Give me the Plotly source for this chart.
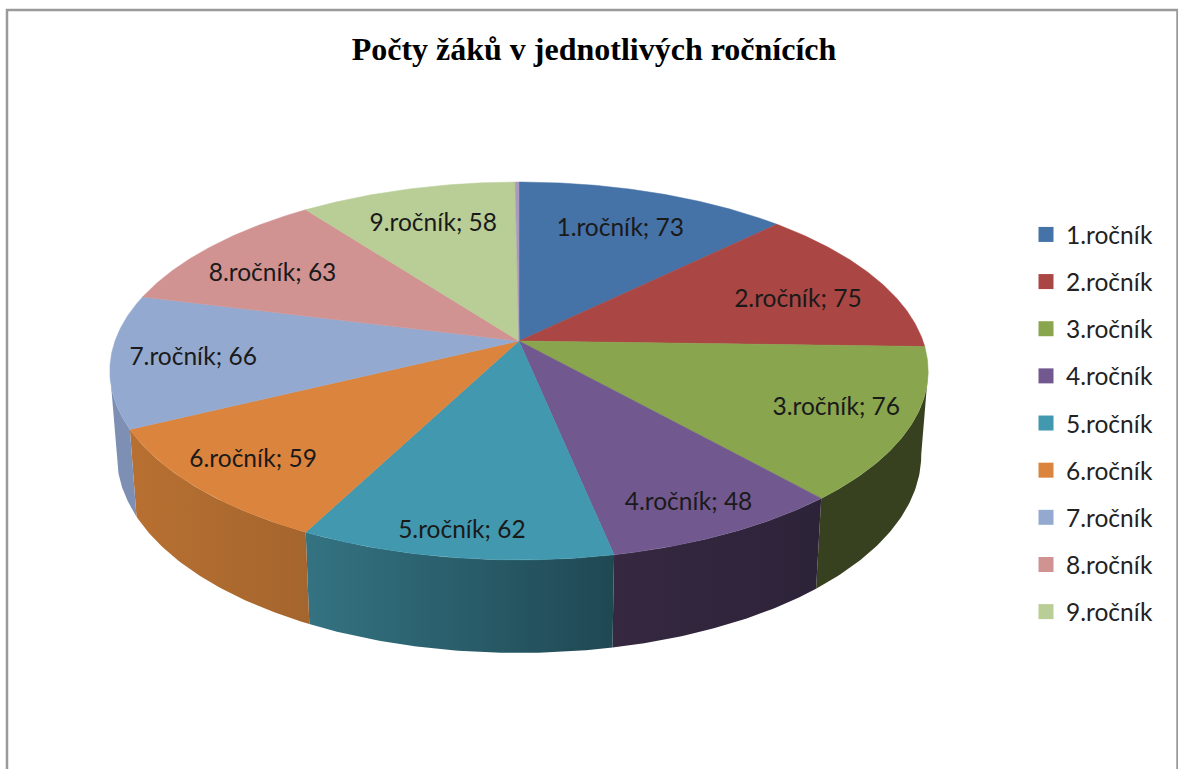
import numpy as np
import plotly.graph_objects as go

categories = ["1.ročník", "2.ročník", "3.ročník", "4.ročník", "5.ročník",
              "6.ročník", "7.ročník", "8.ročník", "9.ročník"]
values = [73, 75, 76, 48, 62, 59, 66, 63, 58]
# unlabelled sliver just before 12 o'clock in the original
sliver_value = 1

top_colors = ["#4572A7", "#AA4643", "#89A54E", "#71588F", "#4198AF",
              "#DB843D", "#93A9CF", "#D19392", "#B9CD96"]
sliver_color = "#A99BBD"
# left and right colour of each visible side wall
wall_colors = [("#2f4d72", "#2f4d72"), ("#37411f", "#37411f"), ("#37411f", "#37411f"),
               ("#352840", "#2d2339"), ("#347382", "#1f4853"), ("#b87031", "#a4652e"),
               ("#7d90b3", "#7d90b3"), ("#8f6463", "#8f6463"), ("#7f8c66", "#7f8c66")]
# Excel does not centre the labels on the slice, so each has its own radius and nudge
label_radius = [0.72, 0.75, 0.82, 0.86, 0.90, 0.84, 0.80, 0.75, 0.74]
label_shift = [0, 4, 0, 1, 0, 0, -1, -3.5, 0]

# picture geometry of the tilted disc, in pixels
CX, CY = 519, 341
RX, RY = 404, 184.2
PERSPECTIVE = 0.1587
WALL_SCALE = 0.983
WALL_DEPTH, WALL_TILT = 82.3, 10.7
# walls end where the disc is widest on screen
WALL_FROM, WALL_TO = 99, 261


def project(angle, radius=1.0):
    """Pie angle in degrees (clockwise from top) to picture x, y."""
    a = np.radians(angle)
    u, v = radius * np.sin(a), radius * np.cos(a)
    w = 1 + PERSPECTIVE * v
    return CX + RX * u / w, CY - RY * v / w


def project_bottom(angle):
    x, y = project(angle)
    return CX + (x - CX) * WALL_SCALE, y + WALL_DEPTH - WALL_TILT * np.cos(np.radians(angle))


total = sum(values) + sliver_value
edges = np.cumsum([0] + values + [sliver_value]) / total * 360
colors = top_colors + [sliver_color]

fig = go.Figure()

# side walls first, the top surface covers whatever is behind
for i in range(len(values)):
    start, end = max(edges[i], WALL_FROM), min(edges[i + 1], WALL_TO)
    if end <= start:
        continue
    arc = np.linspace(start, end, 60)
    tx, ty = project(arc)
    bx, by = project_bottom(arc)
    fig.add_trace(go.Scatter(
        x=np.concatenate([tx, bx[::-1]]), y=np.concatenate([ty, by[::-1]]),
        mode="lines", line=dict(width=0), fill="toself",
        fillgradient=dict(type="horizontal",
                          colorscale=[[0, wall_colors[i][0]], [1, wall_colors[i][1]]]),
        hoverinfo="skip", showlegend=False))

for i, color in enumerate(colors):
    arc = np.linspace(edges[i], edges[i + 1], 120)
    x, y = project(arc)
    fig.add_trace(go.Scatter(
        x=np.concatenate([[CX], x, [CX]]), y=np.concatenate([[CY], y, [CY]]),
        mode="lines", line=dict(width=0.5, color=color), fill="toself", fillcolor=color,
        hoverinfo="skip", showlegend=False))

mids = (edges[:-2] + edges[1:-1]) / 2 + np.array(label_shift)
lx, ly = project(mids, np.array(label_radius))
fig.add_trace(go.Scatter(
    x=lx, y=ly, mode="text", textposition="middle center",
    text=[f"{c}; {v}" for c, v in zip(categories, values)],
    textfont=dict(family="Lato", size=24.5, color="#1a1a1a"),
    hoverinfo="skip", showlegend=False))

for i, name in enumerate(categories):
    fig.add_trace(go.Scatter(
        x=[None], y=[None], mode="markers", name=name, legendgroup=name,
        marker=dict(symbol="square", size=15, color=top_colors[i])))

fig.update_xaxes(range=[0, 1178], visible=False, fixedrange=True)
fig.update_yaxes(range=[769, 0], visible=False, fixedrange=True)

fig.add_shape(type="rect", xref="x", yref="y", x0=7, y0=10, x1=1177.5, y1=790,
              line=dict(color="#9a9a9a", width=2.5), layer="below")

fig.update_layout(
    width=1178, height=769, margin=dict(l=0, r=0, t=0, b=0),
    paper_bgcolor="white", plot_bgcolor="white",
    title=dict(text="<b>Počty žáků v jednotlivých ročnících</b>",
               x=594 / 1178, y=1 - 49 / 769, xanchor="center", yanchor="middle",
               font=dict(family="Liberation Serif", size=32, color="black")),
    legend=dict(x=1026 / 1178, y=1 - 212 / 769, xanchor="left", yanchor="top",
                bgcolor="rgba(0,0,0,0)", tracegroupgap=12.3,
                font=dict(family="Lato", size=24.5, color="#222222")))

fig.write_html("out.html", config=dict(displayModeBar=False),
               post_script="document.body.style.margin='0';")
